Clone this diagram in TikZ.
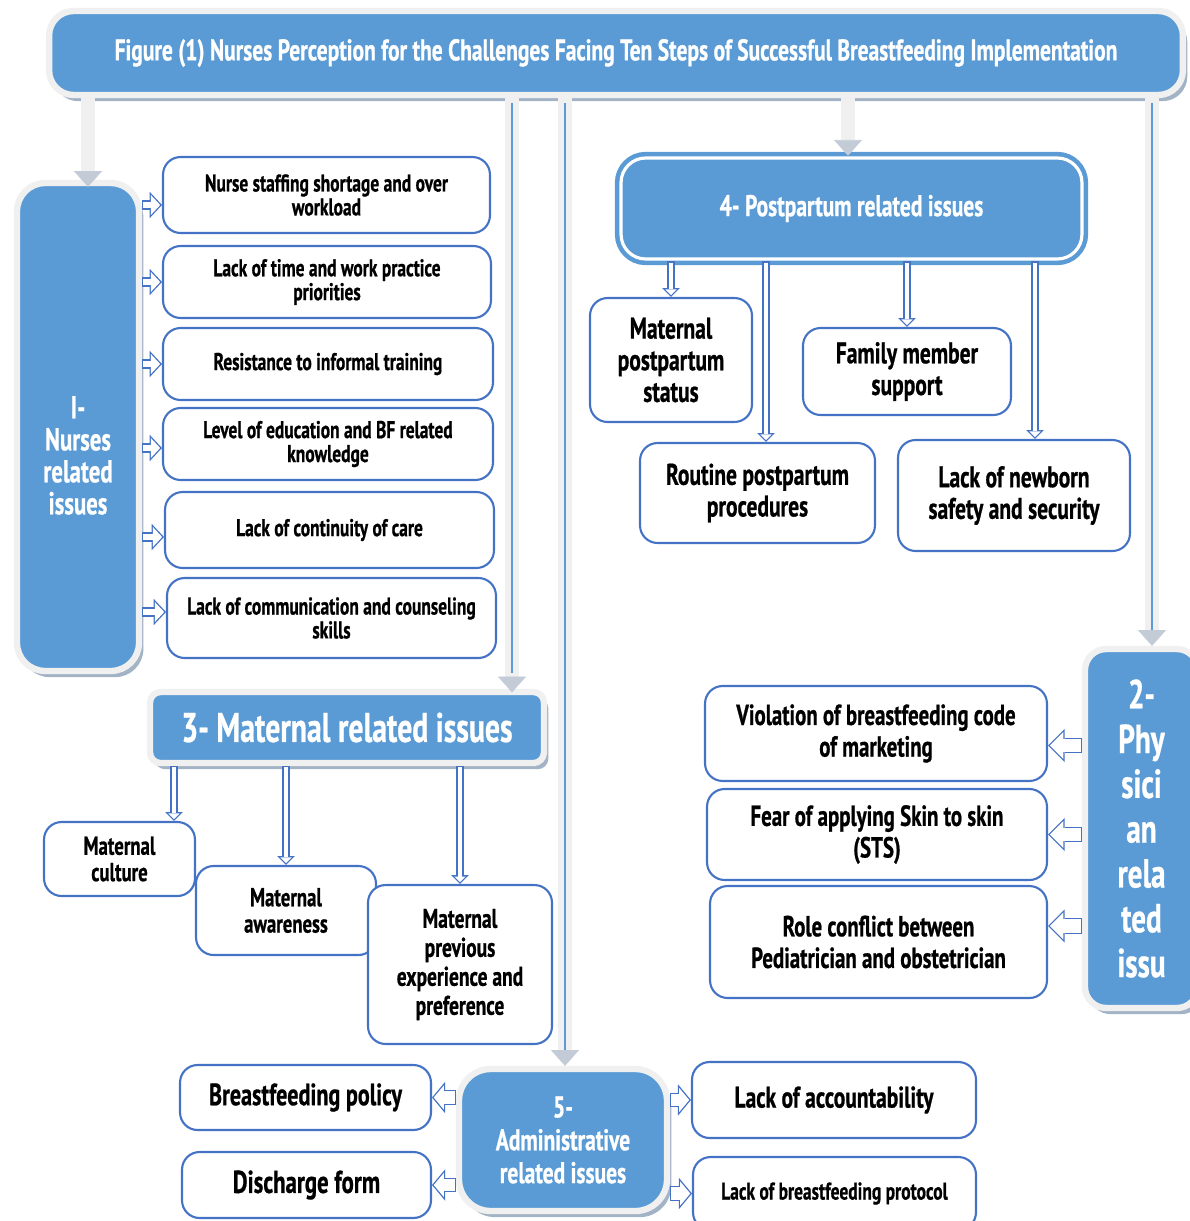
\documentclass[tikz,border=0pt]{standalone}
\usepackage{fontspec}
\setmainfont{PT Sans}[FakeStretch=0.72, BoldFeatures={FakeBold=0.7}]
\usetikzlibrary{arrows.meta}
\usetikzlibrary{shadows}

\definecolor{boxblue}{HTML}{5B9BD5}
\definecolor{wavyblue}{HTML}{4472C4}
\definecolor{framegray}{HTML}{F0F0F0}
\definecolor{shadowgray}{HTML}{A3B3C6}
\definecolor{headgray}{HTML}{C3CCD6}

\tikzset{
  catbox/.style={fill=boxblue, draw=framegray, line width=3.6pt, rounded corners=9pt,
    text=white, align=center, inner sep=2pt,
    drop shadow={shadow xshift=2.5pt, shadow yshift=-3.5pt, fill=shadowgray, opacity=1}},
  ppbox/.style={fill=boxblue, draw=boxblue, double=white, double distance=1.8pt,
    line width=2.6pt, rounded corners=14pt, text=white, align=center},
  issue/.style={draw=wavyblue, line width=1.2pt, fill=white, rounded corners=10pt,
    align=center, inner sep=2pt},
  trunk/.style={draw=framegray, line width=7.5pt,
    -{Triangle[width=16pt,length=9pt,fill=headgray,color=headgray,line width=.4pt]}},
  trunkcore/.style={draw=boxblue, line width=.9pt, shorten >=9pt},
  % hollow block arrows: blue outline, white inside
  hollow/.style={draw=white, line width=3.7pt, shorten <=.75pt, shorten >=1.03pt,
    -{Triangle[width=11.2pt,length=5.22pt,line width=0pt]},
    preaction={draw=wavyblue, line width=5.2pt, shorten <=0pt, shorten >=0pt,
      -{Triangle[width=15pt,length=7pt,line width=0pt]}}},
  adhollow/.style={draw=white, line width=7pt, shorten <=.75pt, shorten >=.98pt,
    -{Triangle[width=13.8pt,length=5.77pt,line width=0pt]},
    preaction={draw=wavyblue, line width=8.5pt, shorten <=0pt, shorten >=0pt,
      -{Triangle[width=18pt,length=7.5pt,line width=0pt]}}},
  bighollow/.style={draw=white, line width=7.5pt, shorten <=.75pt, shorten >=1.06pt,
    -{Triangle[width=15.4pt,length=7.69pt,line width=0pt]},
    preaction={draw=wavyblue, line width=9pt, shorten <=0pt, shorten >=0pt,
      -{Triangle[width=19pt,length=9.5pt,line width=0pt]}}},
  thinhollow/.style={draw=white, line width=2.5pt, shorten <=.75pt, shorten >=1.06pt,
    -{Triangle[width=6.4pt,length=3.19pt,line width=0pt]},
    preaction={draw=wavyblue, line width=4pt, shorten <=0pt, shorten >=0pt,
      -{Triangle[width=10pt,length=5pt,line width=0pt]}}},
  nursetext/.style={font=\bfseries\fontsize{13.8}{13.6}\selectfont},
  pptext/.style={font=\bfseries\fontsize{17}{18}\selectfont},
  mattext/.style={font=\bfseries\fontsize{14.8}{15}\selectfont},
  phtext/.style={font=\bfseries\fontsize{16.5}{18}\selectfont}
}

\begin{document}
\begin{tikzpicture}[x=0.02cm, y=-0.02cm]
  \useasboundingbox (0,0) rectangle (1190,1221);

  % Title
  \node[catbox, rounded corners=14pt, minimum width=22.68cm, minimum height=1.68cm,
    font=\bfseries\fontsize{17}{18}\selectfont] (title) at (616,53)
    {Figure (1) Nurses Perception for the Challenges Facing Ten Steps of Successful Breastfeeding Implementation};

  % Main groups
  \node[catbox, rounded corners=16pt, minimum width=2.44cm, minimum height=9.76cm,
    font=\bfseries\fontsize{18}{18.2}\selectfont] (nurses) at (78,427)
    {\rule{0pt}{45pt}I-\\Nurses\\related\\issues};
  \node[ppbox, minimum width=9.22cm, minimum height=2.02cm,
    font=\bfseries\fontsize{17}{18}\selectfont] (pp) at (851.5,208.5)
    {4- Postpartum related issues};
  \node[catbox, rounded corners=6pt, minimum width=7.88cm, minimum height=1.42cm,
    font=\bfseries\fontsize{23.5}{24}\selectfont] (maternal) at (347,727.5)
    {3- Maternal related issues};
  \node[catbox, rounded corners=18pt, minimum width=4.16cm, minimum height=2.84cm,
    font=\bfseries\fontsize{17}{18.7}\selectfont] (admin) at (563,1140)
    {5-\\Administrative\\related issues};
  \node[catbox, rounded corners=12pt, minimum width=2.26cm, minimum height=7.18cm,
    font=\bfseries\fontsize{23}{25.5}\selectfont] (phys) at (1141.5,828.5)
    {2-\\Phy\\sici\\an\\rela\\ted\\issu};

  % Nurses related issues
  \node[issue, nursetext, minimum width=6.54cm, minimum height=1.52cm] (n1) at (326.5,195)
    {Nurse staffing shortage and over\\workload};
  \node[issue, nursetext, minimum width=6.56cm, minimum height=1.44cm] (n2) at (327,282)
    {Lack of time and work practice\\priorities};
  \node[issue, nursetext, minimum width=6.6cm, minimum height=1.44cm] (n3) at (328,364)
    {Resistance to informal training};
  \node[issue, nursetext, minimum width=6.6cm, minimum height=1.44cm] (n4) at (328,444)
    {Level of education and BF related\\knowledge};
  \node[issue, nursetext, minimum width=6.58cm, minimum height=1.52cm] (n5) at (329.5,530)
    {Lack of continuity of care};
  \node[issue, nursetext, minimum width=6.58cm, minimum height=1.6cm] (n6) at (331.5,618)
    {Lack of communication and counseling\\skills};

  % Postpartum related issues
  \node[issue, pptext, minimum width=3.24cm, minimum height=2.48cm] (pp1) at (671,360)
    {Maternal\\postpartum\\status};
  \node[issue, pptext, minimum width=4.7cm, minimum height=2cm] (pp2) at (757.5,493)
    {Routine postpartum\\procedures};
  \node[issue, pptext, minimum width=4.16cm, minimum height=1.74cm] (pp3) at (907,371.5)
    {Family member\\support};
  \node[issue, pptext, minimum width=4.64cm, minimum height=2.22cm] (pp4) at (1014,495.5)
    {Lack of newborn\\safety and security};

  % Maternal related issues
  \node[issue, mattext, minimum width=3.02cm, minimum height=1.48cm] (m1) at (119.5,859)
    {Maternal\\culture};
  \node[issue, mattext, minimum width=3.6cm, minimum height=1.78cm] (m2) at (286,910.5)
    {Maternal\\awareness};
  \node[issue, mattext, font=\bfseries\fontsize{15.4}{16.5}\selectfont,
    minimum width=3.68cm, minimum height=3.18cm] (m3) at (460,964.5)
    {Maternal\\previous\\experience and\\preference};

  % Physician related issues
  \node[issue, phtext, minimum width=6.84cm, minimum height=1.9cm] (ph1) at (876,733.5)
    {Violation of breastfeeding code\\of marketing};
  \node[issue, phtext, minimum width=6.8cm, minimum height=1.82cm] (ph2) at (877,834.5)
    {Fear of applying Skin to skin\\(STS)};
  \node[issue, phtext, minimum width=6.74cm, minimum height=2.24cm] (ph3) at (878.5,942)
    {Role conflict between\\Pediatrician and obstetrician};

  % Administrative related issues
  \node[issue, font=\bfseries\fontsize{17.5}{18}\selectfont, minimum width=5.02cm, minimum height=1.3cm] (a1) at (305.5,1097.5)
    {Breastfeeding policy};
  \node[issue, font=\bfseries\fontsize{18}{18}\selectfont, minimum width=4.98cm, minimum height=1.32cm] (a2) at (306.5,1185)
    {Discharge form};
  \node[issue, font=\bfseries\fontsize{17}{18}\selectfont, minimum width=5.68cm, minimum height=1.52cm] (a3) at (834,1100)
    {Lack of accountability};
  \node[issue, font=\bfseries\fontsize{13.8}{15}\selectfont, minimum width=5.66cm, minimum height=1.46cm] (a4) at (834.5,1193.5)
    {Lack of breastfeeding protocol};

  % Trunks from the title
  \coordinate (t1) at (88,96);
  \coordinate (t2) at (512,96);
  \coordinate (t3) at (565,96);
  \coordinate (t4) at (848,96);
  \coordinate (t5) at (1152,96);
  \draw[trunk] (t1) -- ([yshift=-4pt]t1 |- nurses.north);
  \draw[trunk] (t2) -- ([yshift=-2pt]t2 |- maternal.north);
  \draw[trunkcore] ([yshift=-4pt]t2) -- (t2 |- maternal.north);
  \draw[trunk] (t3) -- (t3 |- admin.north);
  \draw[trunkcore] ([yshift=-4pt]t3) -- (t3 |- admin.north);
  \draw[trunk] (t4) -- (t4 |- pp.north);
  \draw[trunk] (t5) -- (t5 |- phys.north);
  \draw[trunkcore] ([yshift=-4pt]t5) -- (t5 |- phys.north);

  % Arrows to the issues
  \foreach \n/\dy in {n1/-.2, n2/0, n3/0, n4/-.08, n5/-.14, n6/.12}
    \draw[hollow] ([yshift=\dy cm]nurses.east |- \n) -- ([yshift=\dy cm]\n.west);

  \coordinate (pp2top) at ([xshift=.17cm]pp2.north);
  \coordinate (pp4top) at ([xshift=.42cm]pp4.north);
  \draw[thinhollow] (pp.south -| pp1.north) -- (pp1.north);
  \draw[thinhollow] (pp.south -| pp2top) -- (pp2top);
  \draw[thinhollow] (pp.south -| pp3.north) -- (pp3.north);
  \draw[thinhollow] (pp.south -| pp4top) -- (pp4top);

  \coordinate (m1top) at ([xshift=1.09cm]m1.north);
  \draw[thinhollow] (maternal.south -| m1top) -- (m1top);
  \draw[thinhollow] (maternal.south -| m2.north) -- (m2.north);
  \draw[thinhollow] (maternal.south -| m3.north) -- (m3.north);

  \foreach \p/\dy in {ph1/-.24, ph2/0, ph3/.32}
    \draw[bighollow] ([yshift=\dy cm]phys.west |- \p) -- ([yshift=\dy cm]\p.east);

  \foreach \a in {a1,a2}
    \draw[adhollow] (admin.west |- \a) -- (\a.east);
  \foreach \a in {a3,a4}
    \draw[adhollow] (admin.east |- \a) -- (\a.west);
\end{tikzpicture}
\end{document}
